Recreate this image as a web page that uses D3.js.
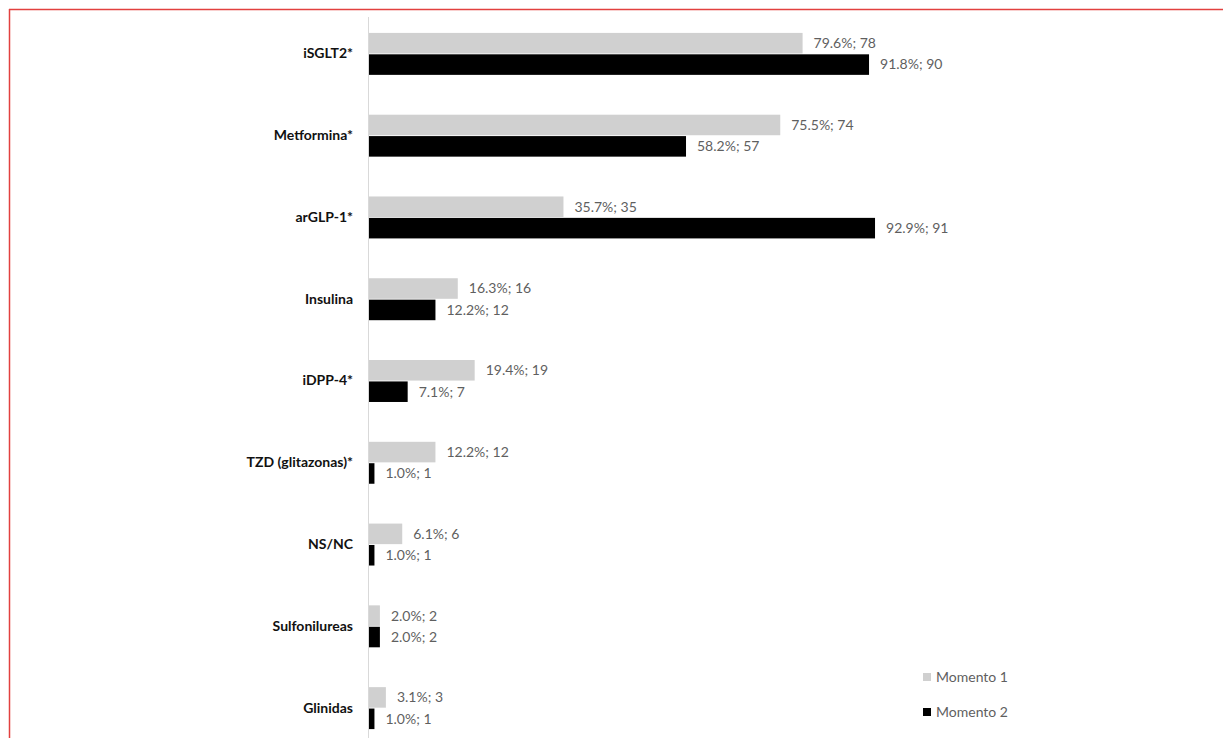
<!DOCTYPE html>
<html>
<head>
<meta charset="utf-8">
<script src="https://cdn.jsdelivr.net/npm/d3@7"></script>
<style>
  html, body { margin: 0; padding: 0; background: #fff; }
  svg { display: block; }
</style>
</head>
<body>
<svg id="chart" width="1223" height="738"></svg>
<script>
// Drug classes, top to bottom
const categories = ["iSGLT2*", "Metformina*", "arGLP-1*", "Insulina", "iDPP-4*",
  "TZD (glitazonas)*", "NS/NC", "Sulfonilureas", "Glinidas"];
const seriesNames = ["Momento 1", "Momento 2"];
// Percentage of patients and counts per moment
const momento1Pct = [79.6, 75.5, 35.7, 16.3, 19.4, 12.2, 6.1, 2.0, 3.1];
const momento1N   = [78, 74, 35, 16, 19, 12, 6, 2, 3];
const momento2Pct = [91.8, 58.2, 92.9, 12.2, 7.1, 1.0, 1.0, 2.0, 1.0];
const momento2N   = [90, 57, 91, 12, 7, 1, 1, 2, 1];

const colors = ["#d0d0d0", "#000000"];
const fontFamily = "Lato, 'Open Sans', sans-serif";

const svg = d3.select("#chart");

// Frame (top and left edge)
svg.append("line").attr("x1", 9).attr("x2", 1223).attr("y1", 9.5).attr("y2", 9.5)
  .attr("stroke", "#e2403f").attr("stroke-width", 1.5);
svg.append("line").attr("x1", 9.5).attr("x2", 9.5).attr("y1", 9).attr("y2", 738)
  .attr("stroke", "#e2403f").attr("stroke-width", 1.5);

const x = d3.scaleLinear().domain([0, 100]).range([369, 369 + 544.7]);
const y = d3.scaleBand().domain(categories).range([13, 749])
  .paddingInner(0.487).paddingOuter(0.2435);
const ySub = d3.scaleBand().domain(seriesNames).range([0, y.bandwidth()]).paddingInner(0.04);

const rows = categories.map((c, i) => ({
  cat: c,
  vals: [
    { s: seriesNames[0], pct: momento1Pct[i], n: momento1N[i] },
    { s: seriesNames[1], pct: momento2Pct[i], n: momento2N[i] }
  ]
}));

// Category axis
const yAxis = d3.axisLeft(y).tickSize(0).tickPadding(16);
const gAxis = svg.append("g").attr("transform", `translate(${x(0)},0)`).call(yAxis);
gAxis.select(".domain").remove();
gAxis.selectAll("text")
  .attr("font-family", fontFamily).attr("font-weight", "bold")
  .attr("font-size", 14).attr("fill", "#111");

const groups = svg.append("g").selectAll("g").data(rows).join("g")
  .attr("transform", d => `translate(0,${y(d.cat)})`);

groups.selectAll("rect").data(d => d.vals).join("rect")
  .attr("x", x(0))
  .attr("y", d => ySub(d.s))
  .attr("width", d => x(d.pct) - x(0))
  .attr("height", ySub.bandwidth())
  .attr("fill", (d, i) => colors[i]);

groups.selectAll("text").data(d => d.vals).join("text")
  .attr("x", d => x(d.pct) + 11)
  .attr("y", d => ySub(d.s) + ySub.bandwidth() / 2)
  .attr("dy", "0.35em")
  .attr("font-family", fontFamily).attr("font-size", 14).attr("fill", "#5f5f5f")
  .text(d => `${d3.format(".1f")(d.pct)}%; ${d.n}`);

// Vertical baseline
svg.append("line").attr("x1", x(0) - 0.5).attr("x2", x(0) - 0.5)
  .attr("y1", 17).attr("y2", 738)
  .attr("stroke", "#d9d9d9").attr("stroke-width", 1);

// Legend
const legend = svg.append("g").selectAll("g").data(seriesNames).join("g")
  .attr("transform", (d, i) => `translate(923,${677 + i * 35})`);
legend.append("rect").attr("x", 0).attr("y", -4).attr("width", 8).attr("height", 8)
  .attr("fill", (d, i) => colors[i]);
legend.append("text").attr("x", 13).attr("y", 0).attr("dy", "0.35em")
  .attr("font-family", fontFamily).attr("font-size", 14).attr("fill", "#5f5f5f")
  .text(d => d);
</script>
</body>
</html>
